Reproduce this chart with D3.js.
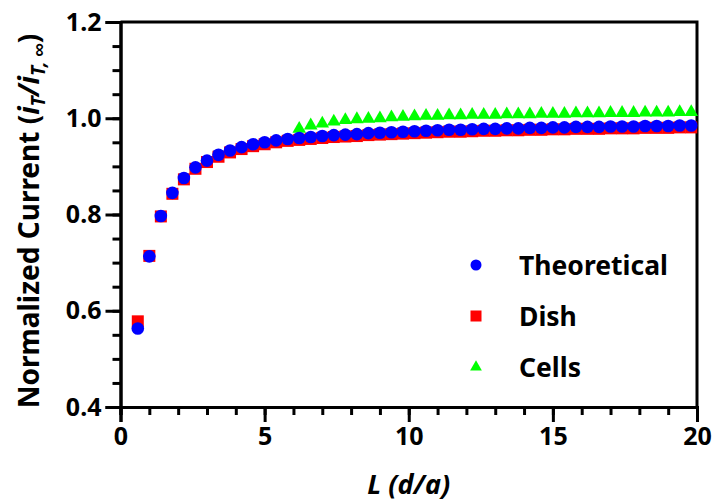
<!DOCTYPE html>
<html>
<head>
<meta charset="utf-8">
<script src="https://cdn.jsdelivr.net/npm/d3@7"></script>
<style>
  body { margin: 0; background: #fff; }
  text { font-family: "Noto Sans", sans-serif; font-weight: 700; fill: #000; }
</style>
</head>
<body>
<svg id="chart" width="716" height="504"></svg>
<script>
// L values (d/a) shared by theory and dish, cells start later
const lTheory = [0.6, 1.0, 1.4, 1.8, 2.2, 2.6, 3.0, 3.4, 3.8, 4.2, 4.6, 5.0, 5.4, 5.8, 6.2, 6.6, 7.0,
    7.4, 7.8, 8.2, 8.6, 9.0, 9.4, 9.8, 10.2, 10.6, 11.0, 11.4, 11.8, 12.2, 12.6, 13.0, 13.4, 13.8,
    14.2, 14.6, 15.0, 15.4, 15.8, 16.2, 16.6, 17.0, 17.4, 17.8, 18.2, 18.6, 19.0, 19.4, 19.8];
const theoretical = [0.563, 0.713, 0.797, 0.845, 0.876, 0.898, 0.912, 0.924, 0.933, 0.940, 0.946,
    0.950, 0.954, 0.957, 0.959, 0.961, 0.963, 0.965, 0.966, 0.967, 0.969, 0.970, 0.971, 0.972,
    0.973, 0.974, 0.975, 0.976, 0.976, 0.977, 0.978, 0.978, 0.979, 0.979, 0.980, 0.980, 0.981,
    0.981, 0.982, 0.982, 0.982, 0.983, 0.983, 0.983, 0.984, 0.984, 0.984, 0.985, 0.985];
const dish = [0.578, 0.714, 0.796, 0.843, 0.873, 0.895, 0.909, 0.920, 0.929, 0.936, 0.942,
    0.946, 0.950, 0.953, 0.955, 0.957, 0.959, 0.961, 0.962, 0.963, 0.965, 0.966, 0.967, 0.968,
    0.969, 0.970, 0.971, 0.972, 0.972, 0.973, 0.974, 0.974, 0.975, 0.975, 0.976, 0.976, 0.977,
    0.977, 0.978, 0.978, 0.978, 0.979, 0.979, 0.979, 0.980, 0.980, 0.980, 0.981, 0.981];
const lCells = [6.2, 6.6, 7.0, 7.4, 7.8, 8.2, 8.6, 9.0, 9.4, 9.8, 10.2, 10.6, 11.0, 11.4, 11.8,
    12.2, 12.6, 13.0, 13.4, 13.8, 14.2, 14.6, 15.0, 15.4, 15.8, 16.2, 16.6, 17.0, 17.4, 17.8,
    18.2, 18.6, 19.0, 19.4, 19.8];
const cells = [0.978, 0.985, 0.989, 0.993, 0.996, 0.998, 0.999, 1.000, 1.002, 1.003, 1.004,
    1.005, 1.005, 1.006, 1.006, 1.007, 1.007, 1.007, 1.008, 1.008, 1.008, 1.009, 1.009, 1.009,
    1.010, 1.010, 1.010, 1.011, 1.011, 1.011, 1.012, 1.012, 1.012, 1.013, 1.013];

const xTicks = [0, 5, 10, 15, 20];
const yTicks = [0.4, 0.6, 0.8, 1.0, 1.2];
const legendNames = ['Theoretical', 'Dish', 'Cells'];
const colors = ['#0000ff', '#ff0000', '#00ff00'];

const svg = d3.select('#chart');
const plot = { left: 120.5, right: 697, top: 22, bottom: 407 };

const x = d3.scaleLinear().domain([0, 20]).range([plot.left, plot.right]);
const y = d3.scaleLinear().domain([0.4, 1.2]).range([plot.bottom, plot.top]);

// frame (top + right)
svg.append('path')
    .attr('d', `M${plot.left},${plot.top}H${plot.right}V${plot.bottom}`)
    .attr('fill', 'none')
    .attr('stroke', '#000')
    .attr('stroke-width', 3);

function styleAxis(g) {
    g.select('.domain').attr('stroke-width', 3);
    g.selectAll('.tick line').attr('stroke-width', 3);
    g.selectAll('.tick text')
        .style('font-size', '25px')
        .style('font-family', '"Noto Sans", sans-serif')
        .style('font-weight', 700);
}

// minor ticks
svg.append('g')
    .attr('transform', `translate(0,${plot.bottom})`)
    .call(d3.axisBottom(x).tickValues(d3.range(0, 21, 1)).tickSize(8).tickFormat(''))
    .call(styleAxis);
svg.append('g')
    .attr('transform', `translate(${plot.left},0)`)
    .call(d3.axisLeft(y).tickValues(d3.range(0.4, 1.2001, 0.05)).tickSize(8).tickFormat(''))
    .call(styleAxis);

// major ticks
svg.append('g')
    .attr('transform', `translate(0,${plot.bottom})`)
    .call(d3.axisBottom(x).tickValues(xTicks).tickSize(15).tickPadding(5).tickFormat(d3.format('d')))
    .call(styleAxis);
svg.append('g')
    .attr('transform', `translate(${plot.left},0)`)
    .call(d3.axisLeft(y).tickValues(yTicks).tickSize(15).tickPadding(4).tickFormat(d3.format('.1f')))
    .call(styleAxis);

// data
svg.append('g').selectAll('path')
    .data(lCells.map((l, i) => [l, cells[i]]))
    .join('path')
    .attr('transform', d => `translate(${x(d[0])},${y(d[1])})`)
    .attr('d', d3.symbol(d3.symbolTriangle, 80))
    .attr('fill', colors[2]);

svg.append('g').selectAll('rect')
    .data(lTheory.map((l, i) => [l, dish[i]]))
    .join('rect')
    .attr('x', d => x(d[0]) - 6)
    .attr('y', d => y(d[1]) - 6)
    .attr('width', 12)
    .attr('height', 12)
    .attr('fill', colors[1]);

svg.append('g').selectAll('circle')
    .data(lTheory.map((l, i) => [l, theoretical[i]]))
    .join('circle')
    .attr('cx', d => x(d[0]))
    .attr('cy', d => y(d[1]))
    .attr('r', 6.3)
    .attr('fill', colors[0]);

// legend
const legend = svg.append('g').attr('transform', 'translate(476,265)');
legendNames.forEach((name, i) => {
    const g = legend.append('g').attr('transform', `translate(0,${i * 51})`);
    if (i === 0) g.append('circle').attr('r', 5.5).attr('fill', colors[0]);
    if (i === 1) g.append('rect').attr('x', -5.5).attr('y', -5.5).attr('width', 11).attr('height', 11).attr('fill', colors[1]);
    if (i === 2) g.append('path').attr('d', d3.symbol(d3.symbolTriangle, 60)).attr('fill', colors[2]);
    g.append('text')
        .attr('x', 43)
        .attr('y', 9.5)
        .style('font-size', '26.5px')
        .text(name);
});

// axis titles
svg.append('text')
    .attr('x', (plot.left + plot.right) / 2)
    .attr('y', 494)
    .attr('text-anchor', 'middle')
    .style('font-size', '27px')
    .style('font-style', 'italic')
    .text('L (d/a)');

const yl = svg.append('text')
    .attr('transform', 'translate(39,221) rotate(-90)')
    .attr('text-anchor', 'middle')
    .style('font-size', '28px');
yl.append('tspan').text('Normalized Current (');
yl.append('tspan').style('font-style', 'italic').text('i');
yl.append('tspan').style('font-style', 'italic').style('font-size', '19px').attr('dy', 6).text('T');
yl.append('tspan').style('font-style', 'italic').attr('dy', -6).text('/i');
yl.append('tspan').style('font-style', 'italic').style('font-size', '19px').attr('dy', 6).text('T, \u221e');
yl.append('tspan').attr('dy', -6).text(')');
</script>
</body>
</html>
